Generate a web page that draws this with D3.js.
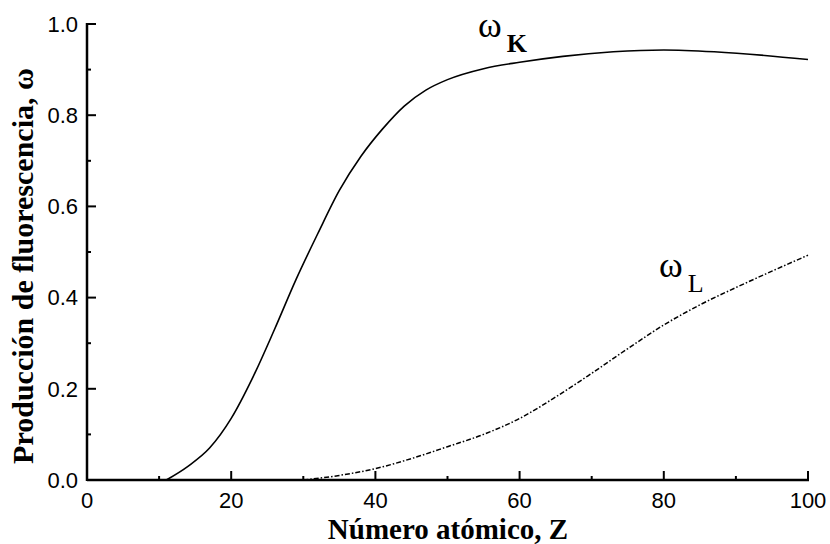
<!DOCTYPE html>
<html><head><meta charset="utf-8">
<script src="https://cdn.jsdelivr.net/npm/d3@7"></script>
<style>body{margin:0;background:#fff}</style>
</head><body><svg id="c" width="830" height="544"></svg>
<script>
// Data
const zK = [11, 14, 17, 20, 23, 26, 29, 32, 35, 38, 41, 44, 47, 50, 55, 60, 66, 73, 80, 87, 94, 100];
const omegaK = [0, 0.03, 0.07, 0.135, 0.225, 0.33, 0.44, 0.54, 0.635, 0.71, 0.77, 0.82, 0.855, 0.878, 0.902, 0.916, 0.929, 0.939, 0.943, 0.939, 0.931, 0.922];
const zL = [30, 35, 40, 45, 50, 55, 60, 65, 70, 75, 80, 85, 90, 95, 100];
const omegaL = [0, 0.01, 0.025, 0.047, 0.073, 0.1, 0.135, 0.182, 0.234, 0.288, 0.34, 0.384, 0.422, 0.458, 0.493];
const xTicks = [0, 20, 40, 60, 80, 100];
const xMinor = [10, 30, 50, 70, 90];
const yTicks = [0, 0.2, 0.4, 0.6, 0.8, 1.0];
const yMinor = [0.1, 0.3, 0.5, 0.7, 0.9];
const xTitle = "Número atómico, Z";
const yTitle = "Producción de fluorescencia, ω";

const svg = d3.select("#c");
const x = d3.scaleLinear().domain([0, 100]).range([87, 808]);
const y = d3.scaleLinear().domain([0, 1]).range([480, 24]);
const X0 = x(0), Y0 = y(0);

// axes lines
svg.append("line").attr("x1", X0).attr("x2", x(100) + 1).attr("y1", Y0).attr("y2", Y0)
  .attr("stroke", "#000").attr("stroke-width", 2.5);
svg.append("line").attr("x1", X0).attr("x2", X0).attr("y1", Y0 + 1).attr("y2", y(1) - 1)
  .attr("stroke", "#000").attr("stroke-width", 2.5);

// ticks (inward)
svg.append("g").selectAll("line").data(xTicks).join("line")
  .attr("x1", d => x(d)).attr("x2", d => x(d)).attr("y1", Y0).attr("y2", Y0 - 9)
  .attr("stroke", "#000").attr("stroke-width", 2);
svg.append("g").selectAll("line").data(xMinor).join("line")
  .attr("x1", d => x(d)).attr("x2", d => x(d)).attr("y1", Y0).attr("y2", Y0 - 4)
  .attr("stroke", "#000").attr("stroke-width", 2);
svg.append("g").selectAll("line").data(yTicks).join("line")
  .attr("x1", X0).attr("x2", X0 + 9).attr("y1", d => y(d)).attr("y2", d => y(d))
  .attr("stroke", "#000").attr("stroke-width", 2);
svg.append("g").selectAll("line").data(yMinor).join("line")
  .attr("x1", X0).attr("x2", X0 + 4).attr("y1", d => y(d)).attr("y2", d => y(d))
  .attr("stroke", "#000").attr("stroke-width", 2);

// tick labels
const tf = "Liberation Sans, Arial, sans-serif";
svg.append("g").selectAll("text").data(xTicks).join("text")
  .attr("x", d => x(d)).attr("y", 508).attr("text-anchor", "middle")
  .attr("font-family", tf).attr("font-size", 22).text(d3.format("d"));
svg.append("g").selectAll("text").data(yTicks).join("text")
  .attr("x", 78).attr("y", d => y(d)).attr("dy", "0.35em").attr("text-anchor", "end")
  .attr("font-family", tf).attr("font-size", 22).text(d3.format(".1f"));

// curves
const line = d3.line().x(d => x(d[0])).y(d => y(d[1])).curve(d3.curveMonotoneX);
svg.append("path").datum(zK.map((z, i) => [z, omegaK[i]]))
  .attr("d", line).attr("fill", "none").attr("stroke", "#000").attr("stroke-width", 1.6);
svg.append("path").datum(zL.map((z, i) => [z, omegaL[i]]))
  .attr("d", line).attr("fill", "none").attr("stroke", "#000").attr("stroke-width", 1.5)
  .attr("stroke-dasharray", "5,2,1.5,2");

// axis titles
svg.append("text").attr("x", 448).attr("y", 539).attr("text-anchor", "middle")
  .attr("font-family", "Liberation Serif, Times New Roman, serif").attr("font-weight", "bold")
  .attr("font-size", 29).text(xTitle);
svg.append("text").attr("transform", "translate(33,266) rotate(-90)").attr("text-anchor", "middle")
  .attr("font-family", "Liberation Serif, Times New Roman, serif").attr("font-weight", "bold")
  .attr("font-size", 30).text(yTitle);

// curve labels
function lab(px, py, sub, bold) {
  const t = svg.append("text").attr("x", px).attr("y", py)
    .attr("font-family", "Liberation Serif, Times New Roman, serif").attr("fill", "#000");
  t.append("tspan").attr("font-size", 36).text("ω");
  t.append("tspan").attr("font-size", 26).attr("dy", 15).attr("dx", 5)
    .attr("font-weight", bold ? "bold" : "normal").text(sub);
}
lab(478, 37, "K", true);
lab(659, 277, "L", false);
</script></body></html>
